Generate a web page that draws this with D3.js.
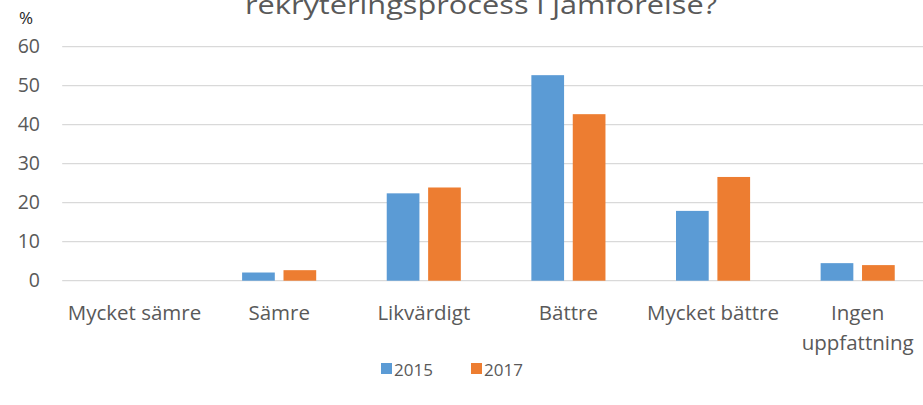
<!DOCTYPE html>
<html><head><meta charset="utf-8">
<script src="https://cdn.jsdelivr.net/npm/d3@7"></script>
<style>
html,body{margin:0;padding:0;background:#fff;overflow:hidden}
text{font-family:"Open Sans",sans-serif}
</style></head>
<body>
<svg id="chart" width="923" height="405"></svg>
<script>
const categories = ["Mycket sämre", "Sämre", "Likvärdigt", "Bättre", "Mycket bättre", "Ingen uppfattning"];
const categoryLines = [["Mycket sämre"], ["Sämre"], ["Likvärdigt"], ["Bättre"], ["Mycket bättre"], ["Ingen", "uppfattning"]];
const years = ["2015", "2017"];
const values2015 = [0, 2.1, 22.4, 52.7, 17.9, 4.5];
const values2017 = [0, 2.7, 23.9, 42.7, 26.6, 4.0];
const yTicks = [0, 10, 20, 30, 40, 50, 60];
const colors = ["#5B9BD5", "#ED7D31"];
const titleText = "rekryteringsprocess i jämförelse?";

const svg = d3.select("#chart");
const x0 = d3.scaleBand().domain(categories).range([62.2, 930]).padding(0);
const groupW = 74.1;
const x1 = d3.scaleBand().domain(years).range([0, groupW]).paddingInner(0.21).paddingOuter(0);
const y = d3.scaleLinear().domain([0, 60]).range([280.7, 46.7]);

// gridlines
svg.append("g").selectAll("line").data(yTicks).join("line")
  .attr("x1", 62.2).attr("x2", 930)
  .attr("y1", d => y(d)).attr("y2", d => y(d))
  .attr("stroke", "#d9d9d9").attr("stroke-width", 1.3);

// y axis labels
const yAxis = d3.axisLeft(y).tickValues(yTicks).tickSize(0).tickPadding(0);
const gy = svg.append("g").attr("transform", "translate(40,0)").call(yAxis);
gy.select(".domain").remove();
gy.selectAll("text").attr("font-size", 19.5).attr("fill", "#595959")
  .attr("font-family", "Open Sans, sans-serif");

svg.append("text").attr("x", 26).attr("y", 17).attr("text-anchor", "middle")
  .attr("dominant-baseline", "central").attr("font-size", 17).attr("fill", "#262626").text("%");

// bars
const series = [values2015, values2017];
series.forEach((vals, si) => {
  svg.append("g").selectAll("rect").data(vals).join("rect")
    .attr("x", (d, i) => x0(categories[i]) + (x0.bandwidth() - groupW) / 2 + x1(years[si]))
    .attr("width", x1.bandwidth())
    .attr("y", d => y(d))
    .attr("height", d => y(0) - y(d))
    .attr("fill", colors[si]);
});

// category labels
const gx = svg.append("g");
categories.forEach((c, i) => {
  const t = gx.append("text").attr("text-anchor", "middle")
    .attr("font-size", 20.5).attr("fill", "#595959");
  categoryLines[i].forEach((ln, li) => {
    t.append("tspan").attr("x", x0(c) + x0.bandwidth() / 2)
      .attr("y", 320 + li * 30).text(ln);
  });
});

// title (top of it cut off by the frame, as in the reference)
svg.append("text").attr("x", 481).attr("y", 14).attr("text-anchor", "middle")
  .attr("font-size", 25).attr("textLength", 472).attr("lengthAdjust", "spacingAndGlyphs")
  .attr("fill", "#595959").text(titleText);

// legend
const legendX = [381, 471];
years.forEach((yr, i) => {
  svg.append("rect").attr("x", legendX[i]).attr("y", 363).attr("width", 11).attr("height", 11).attr("fill", colors[i]);
  svg.append("text").attr("x", legendX[i] + 13).attr("y", 369).attr("dominant-baseline", "central")
    .attr("font-size", 17).attr("fill", "#595959").text(yr);
});
</script>
</body></html>
